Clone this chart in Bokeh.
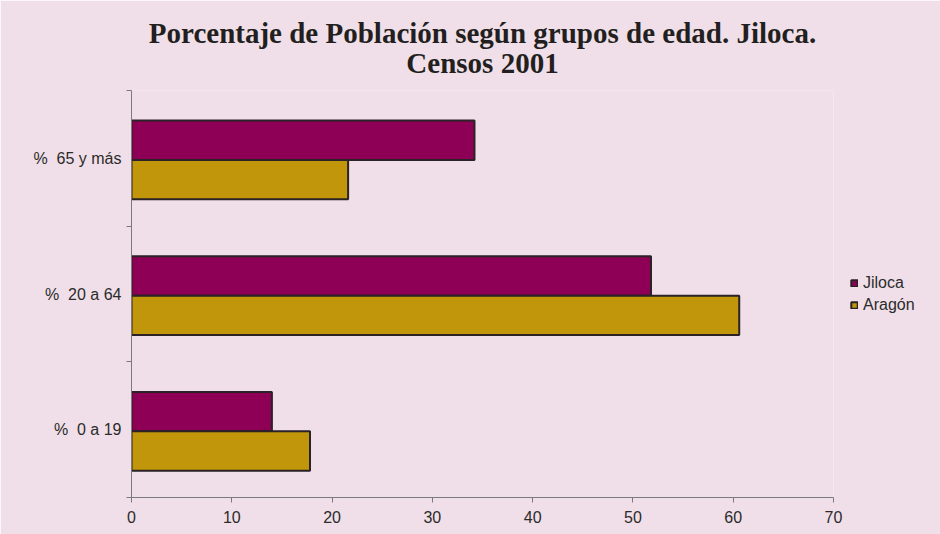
from bokeh.plotting import figure
from bokeh.models import Range1d, FixedTicker, Legend, LegendItem, Title, ColumnDataSource
from bokeh.embed import file_html
from bokeh.resources import INLINE

# ---- data ----
categories = ["%\u00a0 0 a 19", "%\u00a0 20 a 64", "%\u00a0 65 y más"]
jiloca = [14.0, 51.8, 34.2]
aragon = [17.8, 60.6, 21.6]
series_names = ["Jiloca", "Aragón"]
x_ticks = [0, 10, 20, 30, 40, 50, 60, 70]
title_lines = ["Porcentaje de Población según grupos de edad. Jiloca.", "Censos 2001"]

BG = "#F0DFE8"
PURPLE = "#8E0055"
GOLD = "#C1960A"
EDGE = "#2A2226"
TXT = "#2B2B2B"

p = figure(frame_width=702, frame_height=407, output_backend="svg", toolbar_location=None,
           x_range=Range1d(0, 70), y_range=Range1d(0, len(categories)),
           min_border_left=131, min_border_right=107, min_border_top=90, min_border_bottom=37,
           background_fill_color=BG, border_fill_color=BG, outline_line_color=None)

title_style = dict(text_font="Liberation Serif", text_font_size="29px",
                   text_font_style="bold", text_color="#231F20")

if "text_align" in Title.properties():
    # single two-line title with centred lines
    p.title.text = "\n".join(title_lines)
    p.title.align = "center"
    p.title.text_align = "center"
    p.title.text_line_height = 0.95
    p.title.standoff = 22
    for k, v in title_style.items():
        setattr(p.title, k, v)
else:
    p.title.visible = False
    t2 = Title(text=title_lines[1], align="center", standoff=17, **title_style)
    t1 = Title(text=title_lines[0], align="center", standoff=0, **title_style)
    p.add_layout(t2, "above")
    p.add_layout(t1, "above")

bar_h = 0.29
centers = [i + 0.488 for i in range(len(categories))]
src = ColumnDataSource(dict(
    yj=[c + bar_h / 2 for c in centers],
    ya=[c - bar_h / 2 for c in centers],
    jiloca=jiloca, aragon=aragon))

rj = p.hbar(y="yj", right="jiloca", left=0, height=bar_h, source=src,
            fill_color=PURPLE, line_color=EDGE, line_width=2)
ra = p.hbar(y="ya", right="aragon", left=0, height=bar_h, source=src,
            fill_color=GOLD, line_color=EDGE, line_width=2)

p.xgrid.visible = False
p.ygrid.visible = False

# x axis
xa = p.xaxis[0]
xa.ticker = FixedTicker(ticks=x_ticks, minor_ticks=[])
xa.axis_line_color = "#7A7A7A"
xa.major_tick_line_color = "#7A7A7A"
xa.major_tick_in = 0
xa.major_tick_out = 5
xa.minor_tick_line_color = None
xa.major_label_text_font = "Liberation Sans"
xa.major_label_text_font_size = "16px"
xa.major_label_text_color = TXT
xa.major_label_standoff = 8

# y axis: labels at band centers, ticks at band boundaries
ya_ = p.yaxis[0]
ya_.ticker = FixedTicker(ticks=[i + 0.5 for i in range(len(categories))],
                         minor_ticks=list(range(len(categories) + 1)))
ya_.major_label_overrides = {i + 0.5: c for i, c in enumerate(categories)}
ya_.axis_line_color = "#7A7A7A"
ya_.major_tick_line_color = None
ya_.minor_tick_line_color = "#7A7A7A"
ya_.minor_tick_in = 0
ya_.minor_tick_out = 5
ya_.major_label_text_font = "Liberation Sans"
ya_.major_label_text_font_size = "16px"
ya_.major_label_text_color = TXT
ya_.major_label_standoff = 4

legend = Legend(items=[LegendItem(label=series_names[0], renderers=[rj]),
                       LegendItem(label=series_names[1], renderers=[ra])],
                location="left", border_line_color=None, background_fill_alpha=0,
                glyph_width=8, glyph_height=8, label_text_font="Liberation Sans",
                label_text_font_size="16px", label_text_color=TXT, label_height=17,
                label_standoff=5, spacing=4, padding=0, margin=17)
p.add_layout(legend, "right")

open("out.html", "w").write(file_html(p, INLINE))
